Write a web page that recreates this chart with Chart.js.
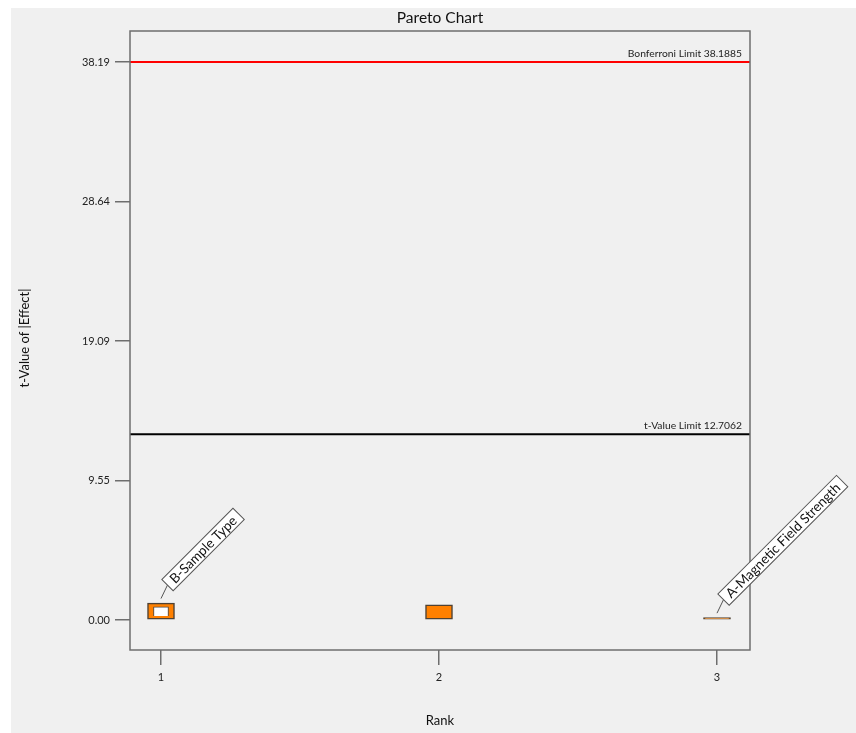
<!DOCTYPE html>
<html>
<head>
<meta charset="utf-8">
<script src="https://cdn.jsdelivr.net/npm/chart.js@4.4.0/dist/chart.umd.min.js"></script>
<style>
  html, body { margin: 0; padding: 0; background: #ffffff; }
  #wrap { width: 856px; height: 733px; position: relative; }
</style>
</head>
<body>
<div id="wrap"><canvas id="c" width="856" height="733"></canvas></div>
<script>
// ---- Data ----
const ranks = [1, 2, 3];
const tValues = [1.16, 1.03, 0.16];
const termLabels = ['B-Sample Type', '', 'A-Magnetic Field Strength'];
const innerRanks = [1];
const innerLow = [0.27];
const innerHigh = [0.91];
const yTickValues = [0, 9.5471, 19.0943, 28.6414, 38.1885];
const yTickLabels = ['0.00', '9.55', '19.09', '28.64', '38.19'];
const xTickValues = [1, 2, 3];
const tValueLimit = 12.7062;
const bonferroniLimit = 38.1885;

const FONT = 'Lato, "Open Sans", sans-serif';

const decorPlugin = {
  id: 'decor',
  beforeDraw(chart) {
    const ctx = chart.ctx;
    ctx.save();
    ctx.fillStyle = '#ffffff';
    ctx.fillRect(0, 0, chart.width, chart.height);
    ctx.fillStyle = '#f0f0f0';
    ctx.fillRect(11, 8, chart.width - 11, chart.height - 8);
    ctx.restore();
  },
  afterDatasetsDraw(chart) {
    const ctx = chart.ctx;
    const a = chart.chartArea;
    const ys = chart.scales.y, xs = chart.scales.x;
    ctx.save();
    // limit lines
    const lims = [
      {v: bonferroniLimit, color: '#ff0000', text: 'Bonferroni Limit ' + bonferroniLimit.toFixed(4)},
      {v: tValueLimit, color: '#000000', text: 't-Value Limit ' + tValueLimit.toFixed(4)}
    ];
    lims.forEach(l => {
      const py = ys.getPixelForValue(l.v);
      ctx.strokeStyle = l.color;
      ctx.lineWidth = 2;
      ctx.beginPath();
      ctx.moveTo(a.left, py);
      ctx.lineTo(a.right, py);
      ctx.stroke();
      ctx.fillStyle = '#222222';
      ctx.font = '10.3px ' + FONT;
      ctx.textAlign = 'right';
      ctx.textBaseline = 'alphabetic';
      ctx.fillText(l.text, a.right - 8, py - 5);
    });
    // plot border
    ctx.strokeStyle = '#6e6e6e';
    ctx.lineWidth = 1.5;
    ctx.strokeRect(a.left, a.top, a.right - a.left, a.bottom - a.top);
    // term labels
    ranks.forEach((r, i) => {
      const t = termLabels[i];
      if (!t) return;
      const cx = xs.getPixelForValue(r);
      const top = ys.getPixelForValue(tValues[i]);
      const sx = cx, sy = top - 4.5;
      const ex = cx + 6.5, ey = top - 18;
      ctx.strokeStyle = '#555555';
      ctx.lineWidth = 1;
      ctx.beginPath();
      ctx.moveTo(sx, sy);
      ctx.lineTo(ex, ey);
      ctx.stroke();
      ctx.save();
      ctx.translate(ex, ey);
      ctx.rotate(-Math.PI / 4);
      ctx.font = '13.5px ' + FONT;
      const w = ctx.measureText(t).width + 12;
      ctx.fillStyle = '#ffffff';
      ctx.fillRect(0, -8, w, 16);
      ctx.strokeStyle = '#555555';
      ctx.lineWidth = 1;
      ctx.strokeRect(0, -8, w, 16);
      ctx.fillStyle = '#111111';
      ctx.textAlign = 'left';
      ctx.textBaseline = 'middle';
      ctx.fillText(t, 6, 0.5);
      ctx.restore();
    });
    // titles
    ctx.fillStyle = '#111111';
    ctx.textAlign = 'center';
    ctx.textBaseline = 'middle';
    ctx.font = '15.5px ' + FONT;
    ctx.fillText('Pareto Chart', (a.left + a.right) / 2, 18);
    ctx.font = '13px ' + FONT;
    ctx.fillText('Rank', (a.left + a.right) / 2, 721);
    ctx.save();
    ctx.translate(25, 338);
    ctx.rotate(-Math.PI / 2);
    ctx.fillText('t-Value of |Effect|', 0, 0);
    ctx.restore();
    ctx.restore();
  }
};

new Chart(document.getElementById('c'), {
  type: 'bar',
  data: {
    datasets: [
      {
        label: 'inner',
        data: innerRanks.map((r, i) => ({x: r, y: [innerLow[i], innerHigh[i]]})),
        backgroundColor: '#ffffff',
        borderColor: '#4a4a4a',
        borderWidth: 1,
        barThickness: 15,
        grouped: false,
        order: 0
      },
      {
        label: 't-Value',
        data: ranks.map((r, i) => ({x: r, y: tValues[i]})),
        backgroundColor: '#ff8000',
        borderColor: 'rgba(60,45,30,0.9)',
        borderWidth: 1.5,
        borderSkipped: false,
        barThickness: 27,
        grouped: false,
        order: 1
      }
    ]
  },
  options: {
    responsive: false,
    animation: false,
    events: [],
    layout: { padding: { left: 0, top: 31, right: 106, bottom: 0 } },
    plugins: { legend: { display: false }, tooltip: { enabled: false }, title: { display: false } },
    scales: {
      x: {
        type: 'linear',
        offset: false,
        min: 0.8885,
        max: 3.1187,
        afterBuildTicks: s => { s.ticks = xTickValues.map(v => ({value: v})); },
        afterFit: s => { s.height = 83; },
        border: { display: false },
        grid: { offset: false, drawOnChartArea: false, drawTicks: true, tickLength: 15, color: '#6e6e6e', lineWidth: 1.5 },
        ticks: { padding: 6, color: '#222222', font: { family: FONT, size: 11 }, callback: v => String(v), maxRotation: 0 }
      },
      y: {
        type: 'linear',
        min: -2.053,
        max: 40.31,
        afterBuildTicks: s => { s.ticks = yTickValues.map(v => ({value: v})); },
        afterFit: s => { s.width = 130; },
        border: { display: false },
        grid: { drawOnChartArea: false, drawTicks: true, tickLength: 15, color: '#6e6e6e', lineWidth: 1.5 },
        ticks: { padding: 5, color: '#222222', font: { family: FONT, size: 11 },
          callback: v => { const i = yTickValues.indexOf(v); return i >= 0 ? yTickLabels[i] : ''; } }
      }
    }
  },
  plugins: [decorPlugin]
});
</script>
</body>
</html>
